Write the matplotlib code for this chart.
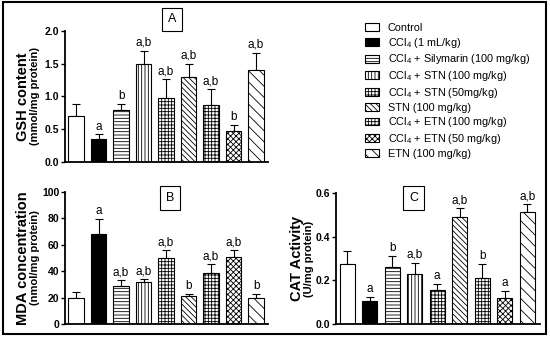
import numpy as np
import matplotlib
matplotlib.use("Agg")
import matplotlib.pyplot as plt
from matplotlib.patches import Patch, Rectangle

plt.rcParams['font.family'] = ['Liberation Sans', 'DejaVu Sans']
plt.rcParams['mathtext.default'] = 'regular'
plt.rcParams['hatch.linewidth'] = 0.6

# groups
groups = ["Control", "CCl$_4$ (1 mL/kg)", "CCl$_4$ + Silymarin (100 mg/kg)",
          "CCl$_4$ + STN (100 mg/kg)", "CCl$_4$ + STN (50mg/kg)", "STN (100 mg/kg)",
          "CCl$_4$ + ETN (100 mg/kg)", "CCl$_4$ + ETN (50 mg/kg)", "ETN (100 mg/kg)"]

# panel A - GSH
gsh = [0.70, 0.35, 0.80, 1.50, 0.98, 1.30, 0.87, 0.47, 1.40]
gsh_err = [0.18, 0.07, 0.08, 0.20, 0.28, 0.20, 0.24, 0.10, 0.27]
gsh_sig = ["", "a", "b", "a,b", "a,b", "a,b", "a,b", "b", "a,b"]

# panel B - MDA
mda = [20, 68, 29, 31.5, 50, 21, 39, 51, 20]
mda_err = [4, 11.5, 4, 2.5, 6, 2, 6.5, 5, 2.5]
mda_sig = ["", "a", "a,b", "a,b", "a,b", "b", "a,b", "a,b", "b"]

# panel C - CAT
cat = [0.275, 0.105, 0.26, 0.23, 0.155, 0.49, 0.21, 0.12, 0.515]
cat_err = [0.06, 0.02, 0.05, 0.05, 0.03, 0.04, 0.065, 0.03, 0.035]
cat_sig = ["", "a", "b", "a,b", "a", "a,b", "b", "a", "a,b"]

colors = ["white", "black"] + ["white"] * 7
hatches = [None, None, "-----", "|||||", "+++++", "\\\\\\\\\\\\", "+++++", "xxxxxx", "\\\\\\"]

fig = plt.figure(figsize=(5.5, 3.4), dpi=100)
fig.add_artist(Rectangle((0.005, 0.018), 0.988, 0.975, transform=fig.transFigure,
                         fill=False, edgecolor="black", linewidth=1.5))


def panel(rect, vals, errs, sig, ymax, yticks, fmt, lab1, lab2, letter, lbox, offs):
    ax = fig.add_axes(rect)
    x = np.arange(len(vals))
    ax.bar(x, vals, width=0.68, color=colors, edgecolor="black", linewidth=0.8,
           hatch=hatches, zorder=2)
    ax.errorbar(x, vals, yerr=[np.zeros(len(errs)), errs], fmt="none",
                ecolor="black", elinewidth=0.8, capsize=3, capthick=0.8, zorder=1)
    for xi, v, e, s in zip(x, vals, errs, sig):
        if s:
            ax.text(xi, v + e + ymax * 0.015, s, ha="center", va="bottom", fontsize=8.5)
    ax.set_xlim(-0.5, 8.55)
    ax.set_ylim(0, ymax)
    ax.set_yticks(yticks)
    ax.set_yticklabels([fmt.format(t) for t in yticks], fontsize=7.5, fontweight="bold")
    ax.set_xticks([])
    for sp in ["top", "right"]:
        ax.spines[sp].set_visible(False)
    ax.spines["left"].set_linewidth(1.3)
    ax.spines["bottom"].set_linewidth(1.3)
    ax.tick_params(axis="y", length=3, width=1.0, pad=1)
    ax.text(offs[0], 0.5, lab1, transform=ax.transAxes, rotation=90, ha="center",
            va="center", fontsize=10.5, fontweight="bold")
    ax.text(offs[1], 0.5, lab2, transform=ax.transAxes, rotation=90, ha="center",
            va="center", fontsize=8, fontweight="bold")
    fig.text(lbox[0], lbox[1], letter, ha="center", va="center", fontsize=9,
             bbox=dict(boxstyle="square,pad=0.45", facecolor="white", edgecolor="black",
                       linewidth=0.8))
    return ax


panel([0.118, 0.5235, 0.37, 0.3855], gsh, gsh_err, gsh_sig, 2.0,
      [0.0, 0.5, 1.0, 1.5, 2.0], "{:.1f}", "GSH content", "(mmol/mg protein)",
      "A", (0.313, 0.943), (-0.205, -0.148))
panel([0.118, 0.047, 0.37, 0.388], mda, mda_err, mda_sig, 100,
      [0, 20, 40, 60, 80, 100], "{:d}", "MDA concentration", "(nmol/mg protein)",
      "B", (0.309, 0.418), (-0.205, -0.148))
panel([0.611, 0.047, 0.37, 0.385], cat, cat_err, cat_sig, 0.6,
      [0.0, 0.2, 0.4, 0.6], "{:.1f}", "CAT Activity", "(U/mg protein)",
      "C", (0.752, 0.418), (-0.19, -0.133))

handles = [Patch(facecolor=c, edgecolor="black", hatch=h, linewidth=0.8)
           for c, h in zip(colors, hatches)]
fig.legend(handles, groups, loc="upper left", bbox_to_anchor=(0.655, 0.945),
           frameon=False, fontsize=7.8, handlelength=1.35, handleheight=0.75,
           handletextpad=0.8, labelspacing=0.25, borderaxespad=0)

fig.savefig("out.png", dpi=100)
